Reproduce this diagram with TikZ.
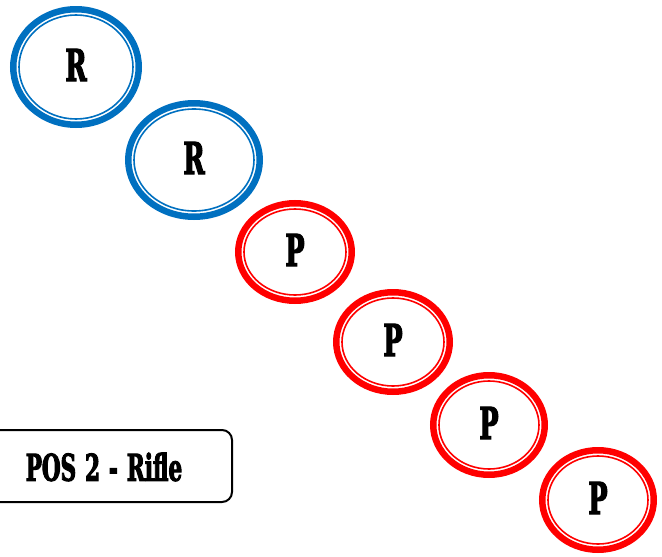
\documentclass[tikz,border=0pt]{standalone}
\usepackage{fontspec}
\usetikzlibrary{shapes.geometric}
\newfontfamily\wfont[FakeStretch=0.58,FakeBold=2.5]{DejaVu Serif}
\definecolor{ringblue}{HTML}{0070C0}
\definecolor{ringred}{HTML}{FF0000}
\tikzset{
  ring/.style={ellipse, draw=#1, line width=6.5pt, inner sep=0pt},
  inring/.style={ellipse, draw=#1, line width=1.6pt, inner sep=0pt},
  lbl/.style={font=\wfont\bfseries\fontsize{44}{44}\selectfont, text=black},
  posbox/.style={draw=black, line width=2pt, rounded corners=10pt, minimum width=244pt, minimum height=72pt, inner sep=0pt}
}
\begin{document}
\begin{tikzpicture}[x=1pt,y=-1pt]
\useasboundingbox (0,0) rectangle (662,557);
% ellipses: center, rx, ry (outer bounds)
\foreach \n/\cx/\cy/\rx/\ry/\col/\t in {
  a/76/67/66/61/ringblue/R,
  b/194/160/69/60/ringblue/R,
  c/295/252/60/52/ringred/P,
  d/393/342/60/53/ringred/P,
  e/489/425/59/53/ringred/P,
  f/598/500/59/53/ringred/P}{
  \node[ring=\col, minimum width={2*(\rx-3.25)*1pt}, minimum height={2*(\ry-3.25)*1pt}] (\n) at (\cx,\cy) {};
  \node[inring=\col, minimum width={2*(\rx-9)*1pt}, minimum height={2*(\ry-9)*1pt}] (\n i) at (\cx,\cy) {};
  \node[lbl] (\n t) at (\cx,\cy-2) {\t};
}
\node[posbox] (box) at (110,466) {};
\node[lbl, font=\wfont\bfseries\fontsize{37}{37}\selectfont] (boxt) at (104,467) {POS\hspace{9pt}2\hspace{9pt}-\hspace{9pt}Rifle};
\end{tikzpicture}
\end{document}
